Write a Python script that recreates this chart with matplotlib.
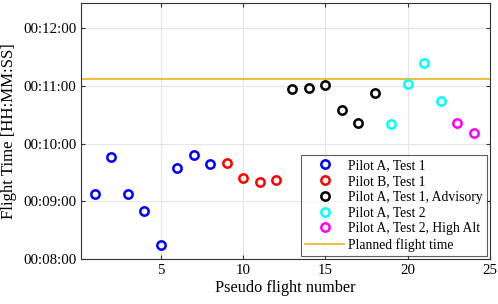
import matplotlib
matplotlib.use("Agg")
import matplotlib.pyplot as plt
from matplotlib.ticker import FuncFormatter, MultipleLocator

plt.rcParams['font.family'] = ['Liberation Serif', 'DejaVu Serif']

# Data (flight number, flight time HH:MM:SS)
pilotA_t1_x = [1, 2, 3, 4, 5, 6, 7, 8]
pilotA_t1_y = ["00:09:08", "00:09:46", "00:09:08", "00:08:50", "00:08:15", "00:09:35", "00:09:48", "00:09:39"]
pilotB_t1_x = [9, 10, 11, 12]
pilotB_t1_y = ["00:09:40", "00:09:24", "00:09:20", "00:09:22"]
pilotA_adv_x = [13, 14, 15, 16, 17, 18]
pilotA_adv_y = ["00:10:57", "00:10:58", "00:11:01", "00:10:35", "00:10:21", "00:10:52"]
pilotA_t2_x = [19, 20, 21, 22]
pilotA_t2_y = ["00:10:20", "00:11:02", "00:11:24", "00:10:44"]
pilotA_hi_x = [23, 24]
pilotA_hi_y = ["00:10:21", "00:10:11"]
planned_time = "00:11:07"

labels = ["Pilot A, Test 1", "Pilot B, Test 1", "Pilot A, Test 1, Advisory",
          "Pilot A, Test 2", "Pilot A, Test 2, High Alt"]
colors = ["#0000FF", "#FF0000", "#000000", "#00FFFF", "#FF00FF"]


def to_sec(s):
    h, m, sec = s.split(":")
    return int(h) * 3600 + int(m) * 60 + int(sec)


def fmt(v, pos):
    v = int(round(v))
    return "%02d:%02d:%02d" % (v // 3600, (v % 3600) // 60, v % 60)


fig = plt.figure(figsize=(4.98, 3.04), dpi=100)
ax = fig.add_axes([81 / 498, 45 / 304, 409 / 498, 256 / 304])

series = [(pilotA_t1_x, pilotA_t1_y), (pilotB_t1_x, pilotB_t1_y),
          (pilotA_adv_x, pilotA_adv_y), (pilotA_t2_x, pilotA_t2_y),
          (pilotA_hi_x, pilotA_hi_y)]
for (xs, ys), c, lab in zip(series, colors, labels):
    ax.plot(xs, [to_sec(y) for y in ys], linestyle='none', marker='o',
            markersize=6, markerfacecolor='none', markeredgecolor=c,
            markeredgewidth=1.8, label=lab, zorder=3)

ax.axhline(to_sec(planned_time), color='#EDB120', linewidth=1.2,
           label='Planned flight time', zorder=2)

ax.set_xlim(0.15, 25)
ax.set_ylim(to_sec("00:08:00"), to_sec("00:12:26"))
ax.xaxis.set_major_locator(MultipleLocator(5))
ax.yaxis.set_major_locator(MultipleLocator(60))
ax.yaxis.set_major_formatter(FuncFormatter(fmt))
ax.grid(True, color='#E6E6E6', linewidth=0.8)
ax.set_axisbelow(True)
ax.tick_params(direction='in', top=True, right=True, labelsize=10.7, length=3,
               color='#333333')
for sp in ax.spines.values():
    sp.set_color('#333333')
    sp.set_linewidth(0.8)

ax.set_xlabel("Pseudo flight number", fontsize=11.7, labelpad=2)
ax.set_ylabel("Flight Time [HH:MM:SS]", fontsize=12.1, labelpad=4)

leg = ax.legend(loc='lower right', fontsize=9.8, frameon=True, fancybox=False,
                edgecolor='#333333', borderaxespad=0.25, handlelength=2.9,
                labelspacing=0.2, borderpad=0.3, handletextpad=0.25)
leg.get_frame().set_linewidth(0.8)

fig.savefig("out.png", dpi=100)
